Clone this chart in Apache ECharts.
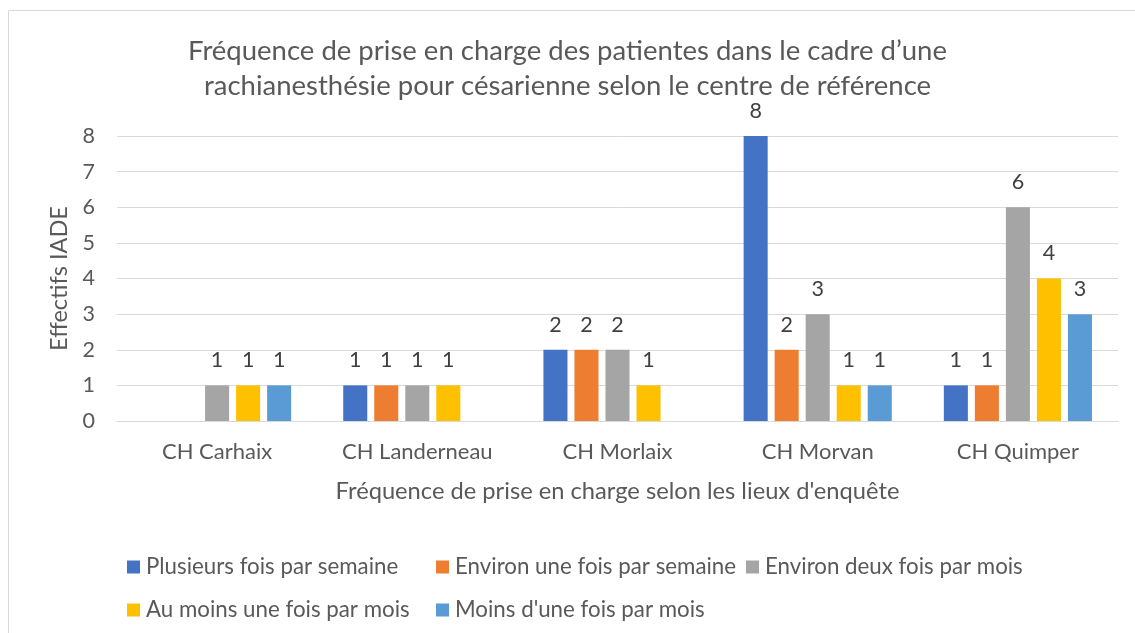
<!DOCTYPE html>
<html>
<head>
<meta charset="utf-8">
<script src="https://cdn.jsdelivr.net/npm/echarts@6/dist/echarts.min.js"></script>
<style>
html,body{margin:0;padding:0;background:#fff;}
#c{width:1135px;height:633px;}
</style>
</head>
<body>
<div id="c"></div>
<script>
const categories = ['CH Carhaix', 'CH Landerneau', 'CH Morlaix', 'CH Morvan', 'CH Quimper'];
const seriesNames = ['Plusieurs fois par semaine', 'Environ une fois par semaine', 'Environ deux fois par mois', 'Au moins une fois par mois', "Moins d'une fois par mois"];
const plusieursParSemaine = [null, 1, 2, 8, 1];
const uneFoisParSemaine = [null, 1, 2, 2, 1];
const deuxFoisParMois = [1, 1, 2, 3, 6];
const auMoinsUneFoisParMois = [1, 1, 1, 1, 4];
const moinsUneFoisParMois = [1, null, null, 1, 3];
const yTicks = [0, 1, 2, 3, 4, 5, 6, 7, 8];

const colors = ['#4472C4', '#ED7D31', '#A5A5A5', '#FFC000', '#5B9BD5'];
const values = [plusieursParSemaine, uneFoisParSemaine, deuxFoisParMois, auMoinsUneFoisParMois, moinsUneFoisParMois];
const FONT = 'Lato';
const TXT = '#595959';

const chart = echarts.init(document.getElementById('c'), null, {renderer: 'canvas'});

function legendCol(left, names) {
  return {
    orient: 'vertical', left: left, top: 551,
    data: names, icon: 'rect', itemWidth: 13, itemHeight: 13, itemGap: 21,
    textStyle: {fontFamily: FONT, fontSize: 22.3, color: TXT, padding: [0, 0, 0, 1]},
    selectedMode: false
  };
}

chart.setOption({
  animation: false,
  color: colors,
  textStyle: {fontFamily: FONT},
  graphic: [{
    type: 'rect', shape: {x: 8.5, y: 10.5, width: 1200, height: 700},
    style: {fill: 'none', stroke: '#D9D9D9', lineWidth: 1}, silent: true
  }],
  title: {
    text: 'Fréquence de prise en charge des patientes dans le cadre d’une\nrachianesthésie pour césarienne selon le centre de référence',
    left: 'center', top: 29,
    textStyle: {fontFamily: FONT, fontSize: 27.5, fontWeight: 'normal', color: TXT, lineHeight: 35}
  },
  legend: [
    legendCol(122, [seriesNames[0], seriesNames[3]]),
    legendCol(431, [seriesNames[1], seriesNames[4]]),
    legendCol(741, [seriesNames[2]])
  ],
  grid: {left: 117, right: 17, top: 136, bottom: 212},
  xAxis: {
    type: 'category', data: categories,
    axisLine: {lineStyle: {color: '#D9D9D9', width: 1}},
    axisTick: {show: false},
    axisLabel: {fontFamily: FONT, fontSize: 22, color: TXT, margin: 20},
    name: "Fréquence de prise en charge selon les lieux d'enquête",
    nameLocation: 'middle', nameGap: 58,
    nameTextStyle: {fontFamily: FONT, fontSize: 23.7, color: TXT}
  },
  yAxis: {
    type: 'value', min: 0, max: 8, interval: 1,
    axisLine: {show: false}, axisTick: {show: false},
    axisLabel: {fontFamily: FONT, fontSize: 21.5, color: TXT, margin: 22,
      formatter: v => yTicks.includes(v) ? String(v) : ''},
    splitLine: {lineStyle: {color: '#D9D9D9', width: 1}},
    name: 'Effectifs IADE', nameLocation: 'middle', nameGap: 45,
    nameTextStyle: {fontFamily: FONT, fontSize: 23.5, color: TXT}
  },
  series: values.map((d, i) => ({
    type: 'bar', name: seriesNames[i], data: d,
    barGap: '29%', barCategoryGap: '26%',
    itemStyle: {color: colors[i]},
    label: {show: true, position: 'top', distance: 14, fontFamily: FONT, fontSize: 21.5, color: '#404040'}
  }))
});
</script>
</body>
</html>
